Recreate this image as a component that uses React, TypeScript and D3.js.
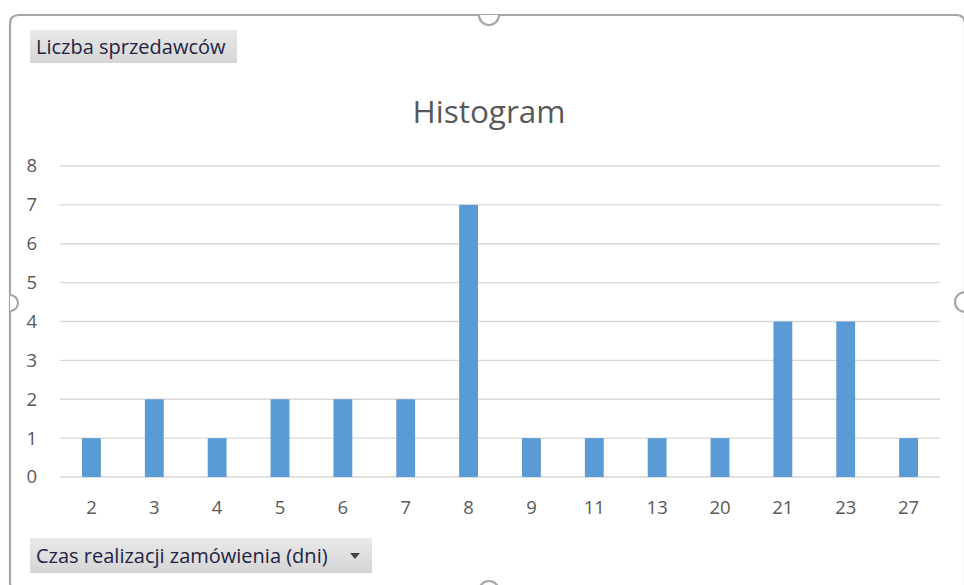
import React, { useEffect } from 'react';
import * as d3 from 'd3';

const categories = ['2', '3', '4', '5', '6', '7', '8', '9', '11', '13', '20', '21', '23', '27'];
const counts = [1, 2, 1, 2, 2, 2, 7, 1, 1, 1, 1, 4, 4, 1];
const yTicks = [0, 1, 2, 3, 4, 5, 6, 7, 8];

const chartTitle = 'Histogram';
const valueField = 'Liczba sprzedawców';
const axisField = 'Czas realizacji zamówienia (dni)';

const W = 964;
const H = 585;

const App: React.FC = () => {
  useEffect(() => {
    document.body.style.margin = '0';
  }, []);

  const x = d3.scaleBand<string>()
    .domain(categories)
    .range([60, 940])
    .paddingInner(0.7)
    .paddingOuter(0.35);

  const y = d3.scaleLinear()
    .domain([0, 8])
    .range([477, 166]);

  const frameColor = '#a6a6a6';
  const textColor = '#595959';
  const font = '"Open Sans", "DejaVu Sans", sans-serif';

  // frame outline with rounded corners (chart selected in Excel), partly cut off by the crop
  const frame = `M19,591 Q10,591 10,582 L10,24 Q10,15 19,15 L956,15 Q965,15 965,24 L965,591`;

  return (
    <svg width={W} height={H} style={{ display: 'block' }}>
      <defs>
        <linearGradient id="btn" x1="0" y1="0" x2="0" y2="1">
          <stop offset="0" stopColor="#e9e9e9" />
          <stop offset="1" stopColor="#d5d5d5" />
        </linearGradient>
      </defs>
      <rect x={0} y={0} width={W} height={H} fill="#fff" />

      <path d={frame} fill="none" stroke={frameColor} strokeWidth={2.2} />
      {/* selection handles */}
      <path d="M479,15 A10,10 0 0 0 499,15" fill="#fff" stroke={frameColor} strokeWidth={2.2} />
      <path d="M10,295 A8,8 0 0 1 10,311" fill="#fff" stroke={frameColor} strokeWidth={2.2} />
      <path d="M965,292 A10,10 0 0 0 965,312" fill="#fff" stroke={frameColor} strokeWidth={2.2} />
      <path d="M479,591 A10,10 0 0 1 499,591" fill="#fff" stroke={frameColor} strokeWidth={2.2} />

      {/* gridlines */}
      {yTicks.map(t => (
        <line key={t} x1={60} x2={940} y1={y(t)} y2={y(t)} stroke="#d9d9d9" strokeWidth={1.3} />
      ))}
      {yTicks.map(t => (
        <text key={'l' + t} x={37} y={y(t)} dy="0.35em" textAnchor="end"
          fontFamily={font} fontSize={18.5} fill={textColor}>{t}</text>
      ))}

      {/* bars */}
      {categories.map((c, i) => (
        <rect key={c} x={x(c)} y={y(counts[i])} width={x.bandwidth()}
          height={y(0) - y(counts[i])} fill="#5b9bd5" />
      ))}

      {categories.map(c => (
        <text key={'x' + c} x={(x(c) || 0) + x.bandwidth() / 2} y={508} dy="0.35em"
          textAnchor="middle" fontFamily={font} fontSize={18.5} fill={textColor}>{c}</text>
      ))}

      <text x={489} y={112} dy="0.35em" textAnchor="middle" fontFamily={font}
        fontSize={31.5} fill={textColor}>{chartTitle}</text>

      {/* pivot field buttons */}
      <rect x={30} y={30} width={207} height={33} fill="url(#btn)" />
      <text x={36} y={47} dy="0.35em" fontFamily={font} fontSize={20} fill="#1f2444">{valueField}</text>

      <rect x={30} y={538} width={342} height={35} fill="url(#btn)" />
      <text x={36} y={556} dy="0.35em" fontFamily={font} fontSize={20} fill="#1f2444">{axisField}</text>
      <path d="M350,553 L360,553 L355,559 Z" fill="#444" />
    </svg>
  );
};

export default App;
